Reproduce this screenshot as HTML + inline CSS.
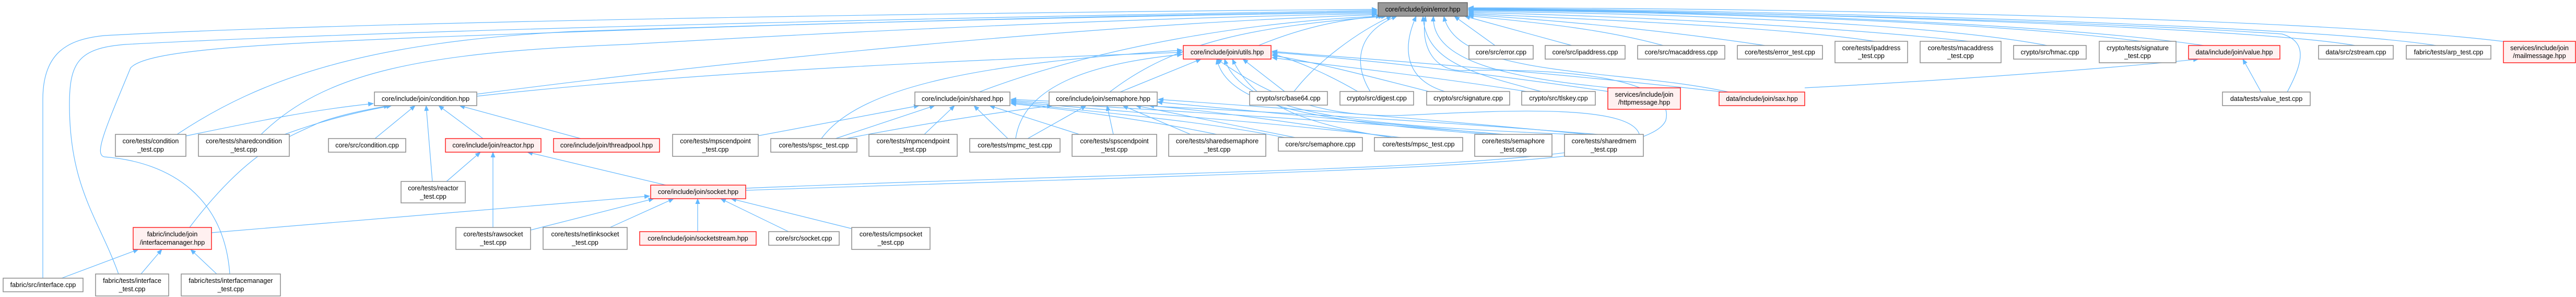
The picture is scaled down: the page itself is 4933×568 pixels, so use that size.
<!DOCTYPE html>
<html><head><meta charset="utf-8"><style>
html,body{margin:0;padding:0;background:#fff;}
svg{display:block;}
text{font-family:"Liberation Sans",Arial,sans-serif;font-size:12.5px;fill:#000;text-anchor:middle;}
.n{fill:#fff;stroke:#8c8c8c;stroke-width:1.5;}
.r{fill:#fff0f0;stroke:#ff2020;stroke-width:1.5;}
.g{fill:#999;stroke:#666;stroke-width:1.5;}
.e{fill:none;stroke:#63b8ff;stroke-width:1.2;marker-end:url(#a);}
</style></head><body>
<svg width="4933" height="568" viewBox="0 0 4933 568" xmlns="http://www.w3.org/2000/svg">
<defs><marker id="a" markerWidth="11" markerHeight="9" refX="10" refY="4.5" orient="auto" markerUnits="userSpaceOnUse"><path d="M0,0 L11,4.5 L0,9z" fill="#63b8ff"/></marker></defs>
<g>
<path class="e" d="M82,532 V190 C82,100 130,75 200,68 C700,40 2000,22 2637,18"/>
<path class="e" d="M227,524 C190,420 133,360 133,200 C133,120 150,92 240,85 C800,55 2000,30 2637,20"/>
<path class="e" d="M440,524 C430,380 330,310 200,300 C180,296 200,250 250,130 C280,95 500,85 800,72 C1500,45 2200,28 2637,22"/>
<path class="e" d="M339,257 C500,150 700,80 1100,60 C1700,40 2300,28 2637,24"/>
<path class="e" d="M500,257 C620,140 800,100 1200,85 C1800,50 2300,32 2637,26"/>
<path class="e" d="M913,180 C1300,130 2000,50 2637,28"/>
<path class="e" d="M2410,87 C2500,50 2580,35 2650,31"/>
<path class="e" d="M1875,176 C2100,90 2400,40 2645,31"/>
<path class="e" d="M2125,176 C2250,80 2400,50 2655,31"/>
<path class="e" d="M2478,175 C2520,120 2600,60 2665,31"/>
<path class="e" d="M2624,175 C2590,120 2600,60 2675,31"/>
<path class="e" d="M2770,176 C2680,150 2690,80 2712,31"/>
<path class="e" d="M2955,176 C2820,140 2730,120 2725,31"/>
<path class="e" d="M3085,168 C2900,150 2740,120 2745,31"/>
<path class="e" d="M3310,176 C3100,130 2790,150 2765,31"/>
<path class="e" d="M2863,87 L2785,31"/>
<path class="e" d="M3010,87 L2805,31"/>
<path class="e" d="M3185,87 C3050,50 2900,40 2812,30"/>
<path class="e" d="M3380,87 C3200,60 3000,40 2812,28"/>
<path class="e" d="M3590,79 C3400,50 3000,35 2812,26"/>
<path class="e" d="M3770,79 C3500,50 3100,30 2812,24"/>
<path class="e" d="M3920,87 C3700,45 3200,25 2812,22"/>
<path class="e" d="M4100,79 C3800,40 3200,22 2812,20"/>
<path class="e" d="M4220,87 C3900,40 3200,20 2812,19"/>
<path class="e" d="M4380,176 C4410,120 4420,80 4370,65 C4000,40 3300,22 2812,18"/>
<path class="e" d="M4510,87 C4300,50 3300,20 2812,17"/>
<path class="e" d="M4665,87 C4400,45 3300,18 2812,16"/>
<path class="e" d="M4800,80 C4400,30 3300,15 2812,15"/>
<path class="e" d="M1428,360 C2400,320 3150,330 3190,230 C3210,150 3000,130 2800,135 C2740,135 2720,80 2730,31"/>
<path class="e" d="M1428,364 C2400,330 3150,320 3140,260 C3130,200 2900,210 2700,220 C2500,230 2400,160 2330,113"/>
<path class="e" d="M913,184 C1400,130 2000,110 2264,100"/>
<path class="e" d="M1573,265 C1650,160 1900,120 2264,96"/>
<path class="e" d="M1945,265 C1960,160 2100,120 2264,104"/>
<path class="e" d="M2145,176 L2300,113"/>
<path class="e" d="M2460,175 L2380,113"/>
<path class="e" d="M2600,175 C2540,140 2480,115 2436,103"/>
<path class="e" d="M2740,176 C2600,140 2500,115 2436,106"/>
<path class="e" d="M2930,176 C2700,140 2500,120 2436,110"/>
<path class="e" d="M3080,175 C2700,120 2500,105 2436,100"/>
<path class="e" d="M3300,176 C2900,130 2500,105 2436,98"/>
<path class="e" d="M2680,265 C2500,240 2400,200 2360,113"/>
<path class="e" d="M3010,257 C2600,240 2380,220 2345,113"/>
<path class="e" d="M2850,257 C2500,230 2350,200 2330,113"/>
<path class="e" d="M1450,260 L1760,202"/>
<path class="e" d="M1600,265 L1790,202"/>
<path class="e" d="M1770,257 L1828,202"/>
<path class="e" d="M1930,265 L1865,202"/>
<path class="e" d="M2067,257 L1895,202"/>
<path class="e" d="M2470,265 C2300,230 2100,215 1936,196"/>
<path class="e" d="M2700,265 C2400,230 2100,210 1936,194"/>
<path class="e" d="M2880,257 C2500,225 2100,205 1936,192"/>
<path class="e" d="M3060,257 C2600,220 2150,200 1936,190"/>
<path class="e" d="M2330,257 C2200,230 2050,210 1936,198"/>
<path class="e" d="M1620,265 C1800,230 1950,210 2015,202"/>
<path class="e" d="M1968,265 L2080,202"/>
<path class="e" d="M2132,257 L2120,202"/>
<path class="e" d="M2280,257 L2150,202"/>
<path class="e" d="M2490,265 L2175,202"/>
<path class="e" d="M2680,265 C2450,230 2300,210 2200,202"/>
<path class="e" d="M2870,257 C2500,220 2300,205 2216,195"/>
<path class="e" d="M3040,257 C2600,215 2350,200 2218,190"/>
<path class="e" d="M356,260 C500,230 600,210 715,198"/>
<path class="e" d="M545,257 C620,230 680,215 750,202"/>
<path class="e" d="M718,265 L795,202"/>
<path class="e" d="M828,347 L816,202"/>
<path class="e" d="M925,265 L840,202"/>
<path class="e" d="M1112,265 L880,202"/>
<path class="e" d="M363,435 C480,280 560,260 610,235 C650,220 700,210 745,202"/>
<path class="e" d="M855,347 L920,291"/>
<path class="e" d="M944,435 L944,291"/>
<path class="e" d="M1275,354 L1010,291"/>
<path class="e" d="M405,445 L1244,375"/>
<path class="e" d="M1016,440 L1252,380"/>
<path class="e" d="M1168,435 L1290,380"/>
<path class="e" d="M1336,443 L1336,380"/>
<path class="e" d="M1510,443 L1380,380"/>
<path class="e" d="M1630,437 L1400,380"/>
<path class="e" d="M118,532 L265,477"/>
<path class="e" d="M270,524 L310,477"/>
<path class="e" d="M415,524 L365,477"/>
<path class="e" d="M3456,168 C3800,150 4100,125 4210,113"/>
<path class="e" d="M4330,176 L4295,113"/>
</g>
<g>
<rect class="g" x="2639" y="5" width="171" height="26"/><text x="2724.5" y="22">core/include/join/error.hpp</text>

<rect class="r" x="2266" y="87" width="168" height="26"/><text x="2350" y="104">core/include/join/utils.hpp</text>
<rect class="n" x="2813" y="87" width="123" height="26"/><text x="2874.5" y="104">core/src/error.cpp</text>
<rect class="n" x="2959" y="87" width="153" height="26"/><text x="3035.5" y="104">core/src/ipaddress.cpp</text>
<rect class="n" x="3136" y="87" width="167" height="26"/><text x="3219.5" y="104">core/src/macaddress.cpp</text>
<rect class="n" x="3327" y="87" width="163" height="26"/><text x="3408.5" y="104">core/tests/error_test.cpp</text>
<rect class="n" x="3514" y="79" width="139" height="41"/><text x="3583.5" y="96">core/tests/ipaddress</text><text x="3583.5" y="111">_test.cpp</text>
<rect class="n" x="3677" y="79" width="155" height="41"/><text x="3754.5" y="96">core/tests/macaddress</text><text x="3754.5" y="111">_test.cpp</text>
<rect class="n" x="3856" y="87" width="139" height="26"/><text x="3925.5" y="104">crypto/src/hmac.cpp</text>
<rect class="n" x="4020" y="79" width="147" height="41"/><text x="4093.5" y="96">crypto/tests/signature</text><text x="4093.5" y="111">_test.cpp</text>
<rect class="r" x="4191" y="87" width="175" height="26"/><text x="4278.5" y="104">data/include/join/value.hpp</text>
<rect class="n" x="4440" y="87" width="143" height="26"/><text x="4511.5" y="104">data/src/zstream.cpp</text>
<rect class="n" x="4608" y="87" width="162" height="26"/><text x="4689" y="104">fabric/tests/arp_test.cpp</text>
<rect class="r" x="4794" y="79" width="138" height="41"/><text x="4863" y="96">services/include/join</text><text x="4863" y="111">/mailmessage.hpp</text>

<rect class="n" x="717" y="176" width="196" height="26"/><text x="815" y="193">core/include/join/condition.hpp</text>
<rect class="n" x="1752" y="176" width="182" height="26"/><text x="1843" y="193">core/include/join/shared.hpp</text>
<rect class="n" x="2009" y="176" width="207" height="26"/><text x="2112.5" y="193">core/include/join/semaphore.hpp</text>
<rect class="n" x="2393" y="175" width="149" height="26"/><text x="2467.5" y="192">crypto/src/base64.cpp</text>
<rect class="n" x="2566" y="175" width="141" height="26"/><text x="2636.5" y="192">crypto/src/digest.cpp</text>
<rect class="n" x="2732" y="175" width="159" height="26"/><text x="2811.5" y="192">crypto/src/signature.cpp</text>
<rect class="n" x="2914" y="175" width="141" height="26"/><text x="2984.5" y="192">crypto/src/tlskey.cpp</text>
<rect class="r" x="3079" y="168" width="139" height="41"/><text x="3148.5" y="185">services/include/join</text><text x="3148.5" y="200">/httpmessage.hpp</text>
<rect class="r" x="3292" y="176" width="164" height="26"/><text x="3374" y="193">data/include/join/sax.hpp</text>
<rect class="n" x="4256" y="176" width="168" height="26"/><text x="4340" y="193">data/tests/value_test.cpp</text>

<rect class="n" x="221" y="257" width="135" height="42"/><text x="288.5" y="274">core/tests/condition</text><text x="288.5" y="290">_test.cpp</text>
<rect class="n" x="380" y="257" width="174" height="42"/><text x="467" y="274">core/tests/sharedcondition</text><text x="467" y="290">_test.cpp</text>
<rect class="n" x="629" y="265" width="148" height="26"/><text x="703" y="282">core/src/condition.cpp</text>
<rect class="r" x="853" y="265" width="183" height="26"/><text x="944.5" y="282">core/include/join/reactor.hpp</text>
<rect class="r" x="1060" y="265" width="203" height="26"/><text x="1161.5" y="282">core/include/join/threadpool.hpp</text>
<rect class="n" x="1288" y="257" width="164" height="42"/><text x="1370" y="274">core/tests/mpscendpoint</text><text x="1370" y="290">_test.cpp</text>
<rect class="n" x="1476" y="265" width="165" height="26"/><text x="1558.5" y="282">core/tests/spsc_test.cpp</text>
<rect class="n" x="1664" y="257" width="169" height="42"/><text x="1748.5" y="274">core/tests/mpmcendpoint</text><text x="1748.5" y="290">_test.cpp</text>
<rect class="n" x="1857" y="265" width="173" height="26"/><text x="1943.5" y="282">core/tests/mpmc_test.cpp</text>
<rect class="n" x="2053" y="257" width="162" height="42"/><text x="2134" y="274">core/tests/spscendpoint</text><text x="2134" y="290">_test.cpp</text>
<rect class="n" x="2238" y="257" width="186" height="42"/><text x="2331" y="274">core/tests/sharedsemaphore</text><text x="2331" y="290">_test.cpp</text>
<rect class="n" x="2448" y="263" width="161" height="26"/><text x="2528.5" y="280">core/src/semaphore.cpp</text>
<rect class="n" x="2632" y="263" width="169" height="26"/><text x="2716.5" y="280">core/tests/mpsc_test.cpp</text>
<rect class="n" x="2824" y="257" width="148" height="42"/><text x="2898" y="274">core/tests/semaphore</text><text x="2898" y="290">_test.cpp</text>
<rect class="n" x="2996" y="257" width="151" height="42"/><text x="3071.5" y="274">core/tests/sharedmem</text><text x="3071.5" y="290">_test.cpp</text>

<rect class="n" x="768" y="347" width="123" height="41"/><text x="829.5" y="364">core/tests/reactor</text><text x="829.5" y="380">_test.cpp</text>
<rect class="r" x="1246" y="354" width="182" height="26"/><text x="1337" y="371">core/include/join/socket.hpp</text>

<rect class="r" x="255" y="435" width="150" height="42"/><text x="330" y="452">fabric/include/join</text><text x="330" y="468">/interfacemanager.hpp</text>
<rect class="n" x="873" y="435" width="143" height="42"/><text x="944.5" y="452">core/tests/rawsocket</text><text x="944.5" y="468">_test.cpp</text>
<rect class="n" x="1040" y="435" width="161" height="42"/><text x="1120.5" y="452">core/tests/netlinksocket</text><text x="1120.5" y="468">_test.cpp</text>
<rect class="r" x="1225" y="443" width="223" height="26"/><text x="1336.5" y="460">core/include/join/socketstream.hpp</text>
<rect class="n" x="1472" y="443" width="135" height="26"/><text x="1539.5" y="460">core/src/socket.cpp</text>
<rect class="n" x="1631" y="435" width="150" height="42"/><text x="1706" y="452">core/tests/icmpsocket</text><text x="1706" y="468">_test.cpp</text>

<rect class="n" x="6" y="532" width="153" height="26"/><text x="82.5" y="549">fabric/src/interface.cpp</text>
<rect class="n" x="183" y="524" width="140" height="42"/><text x="253" y="541">fabric/tests/interface</text><text x="253" y="557">_test.cpp</text>
<rect class="n" x="347" y="524" width="190" height="42"/><text x="442" y="541">fabric/tests/interfacemanager</text><text x="442" y="557">_test.cpp</text>
</g>
</svg>
</body></html>
